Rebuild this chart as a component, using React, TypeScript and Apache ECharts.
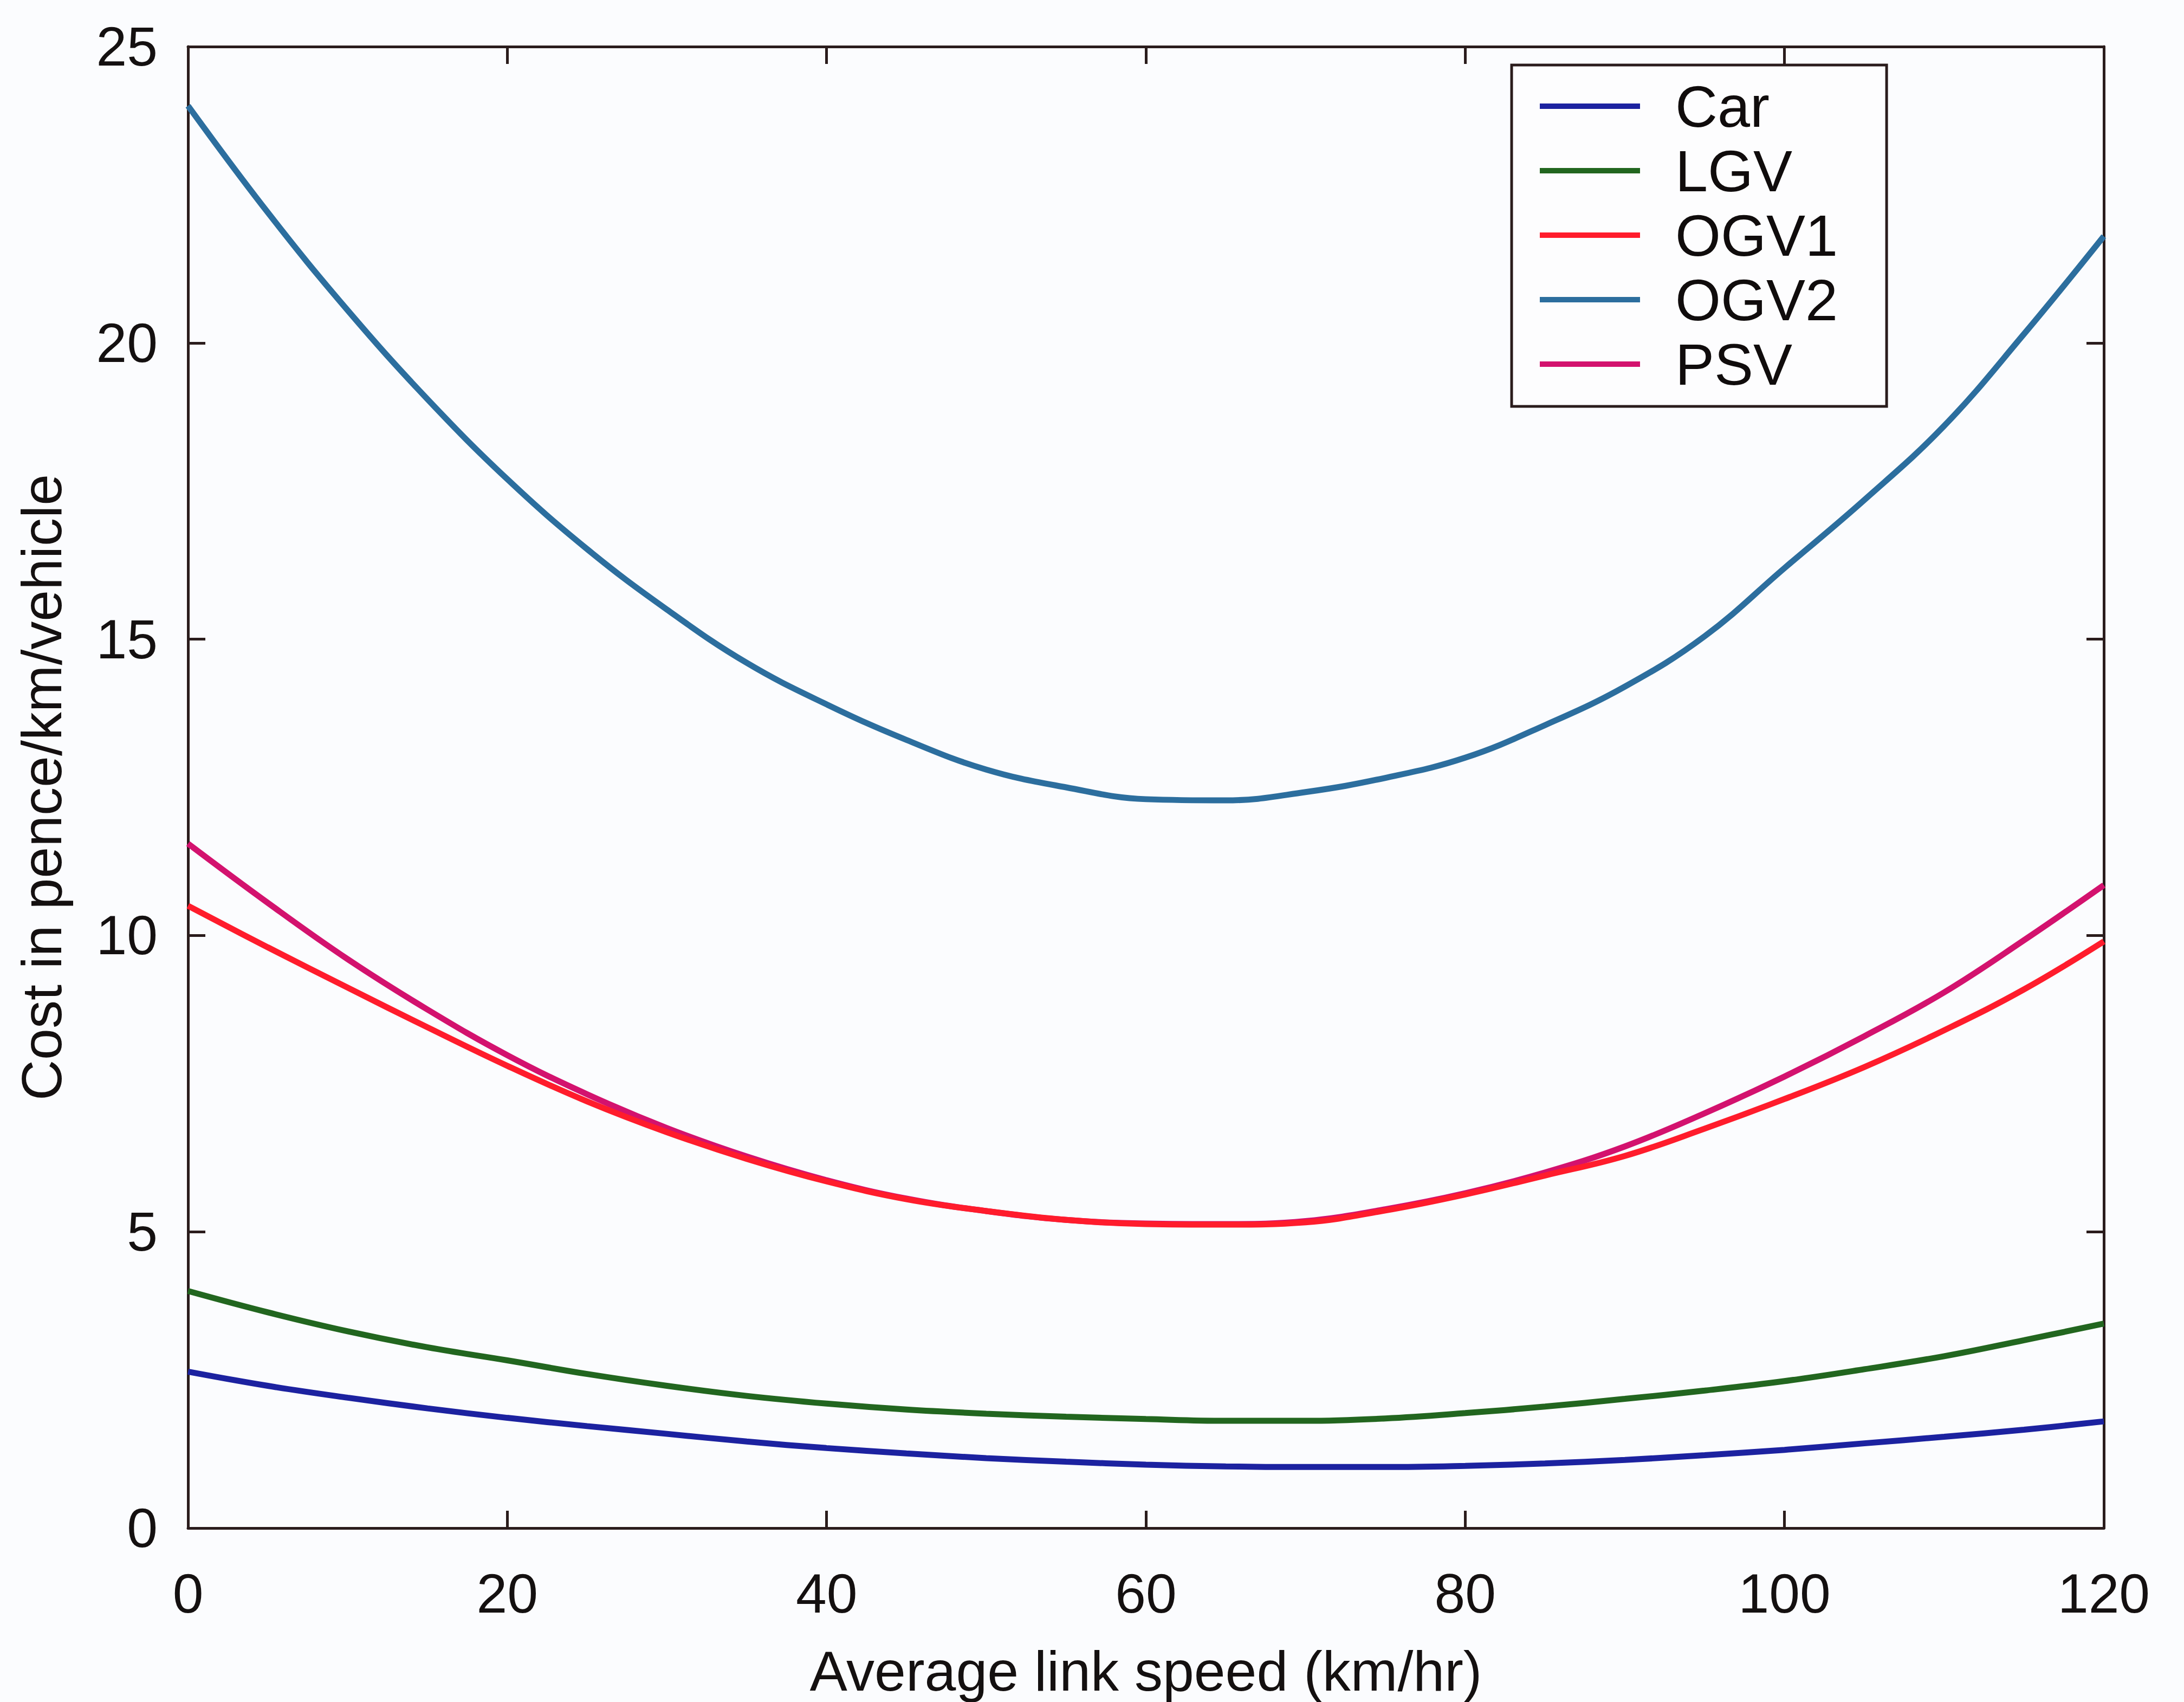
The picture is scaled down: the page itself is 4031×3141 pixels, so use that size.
import React, { useEffect, useRef } from "react";
import * as echarts from "echarts";

const speeds = [0, 5, 10, 15, 20, 25, 30, 35, 40, 45, 50, 55, 60, 65, 70, 75, 80, 85, 90, 95, 100, 105, 110, 115, 120];
const car = [2.64, 2.4, 2.2, 2.02, 1.86, 1.72, 1.59, 1.46, 1.35, 1.26, 1.18, 1.12, 1.07, 1.04, 1.03, 1.03, 1.05, 1.09, 1.15, 1.23, 1.32, 1.43, 1.54, 1.66, 1.8];
const lgv = [4.0, 3.64, 3.32, 3.05, 2.83, 2.6, 2.4, 2.23, 2.1, 2.0, 1.93, 1.88, 1.84, 1.81, 1.81, 1.85, 1.94, 2.05, 2.18, 2.32, 2.48, 2.68, 2.9, 3.17, 3.45];
const ogv1 = [10.5, 9.8, 9.12, 8.45, 7.8, 7.2, 6.68, 6.23, 5.85, 5.55, 5.35, 5.2, 5.13, 5.12, 5.16, 5.36, 5.63, 5.95, 6.28, 6.74, 7.24, 7.78, 8.4, 9.09, 9.9];
const ogv2 = [24.0, 22.2, 20.55, 19.05, 17.7, 16.52, 15.5, 14.6, 13.9, 13.3, 12.8, 12.5, 12.3, 12.28, 12.42, 12.66, 13.0, 13.55, 14.2, 15.05, 16.2, 17.35, 18.6, 20.15, 21.8];
const psv = [11.55, 10.55, 9.6, 8.75, 7.98, 7.32, 6.75, 6.27, 5.87, 5.56, 5.35, 5.2, 5.14, 5.13, 5.18, 5.38, 5.65, 6.0, 6.44, 7.0, 7.62, 8.3, 9.04, 9.92, 10.85];

const seriesNames = ["Car", "LGV", "OGV1", "OGV2", "PSV"];
const seriesValues = [car, lgv, ogv1, ogv2, psv];
const seriesColors = ["#1c22a0", "#22661f", "#ff1c2c", "#2c6e9e", "#d3126e"];

const xTicks = [0, 20, 40, 60, 80, 100, 120];
const yTicks = [0, 5, 10, 15, 20, 25];

const FONT = "Liberation Sans, Arial, Helvetica, sans-serif";
const AXIS_COLOR = "#2a1c1c";

export default function App() {
  const ref = useRef<HTMLDivElement>(null);
  useEffect(() => {
    if (!ref.current) return;
    const chart = echarts.init(ref.current, undefined, { renderer: "svg" });
    const axisCommon = {
      type: "value" as const,
      axisLine: { show: true, onZero: false, lineStyle: { color: AXIS_COLOR, width: 5 } },
      axisTick: { show: true, inside: true, length: 32, lineStyle: { color: AXIS_COLOR, width: 5 } },
      splitLine: { show: false },
    };
    chart.setOption({
      animation: false,
      backgroundColor: "#fbfcfe",
      textStyle: { fontFamily: FONT },
      grid: { left: 347, right: 148, top: 86, bottom: 293, containLabel: false },
      xAxis: [
        {
          ...axisCommon,
          min: xTicks[0],
          max: xTicks[xTicks.length - 1],
          interval: 20,
          position: "bottom",
          axisLabel: { fontSize: 102, color: "#141010", margin: 70, fontFamily: FONT },
          name: "Average link speed (km/hr)",
          nameLocation: "middle",
          nameGap: 212,
          nameTextStyle: { fontSize: 104, color: "#141010", fontFamily: FONT },
        },
        {
          ...axisCommon,
          min: xTicks[0],
          max: xTicks[xTicks.length - 1],
          interval: 20,
          position: "top",
          axisLabel: { show: false },
        },
      ],
      yAxis: [
        {
          ...axisCommon,
          min: yTicks[0],
          max: yTicks[yTicks.length - 1],
          interval: 5,
          position: "left",
          axisLabel: { fontSize: 102, color: "#141010", margin: 56, fontFamily: FONT },
          name: "Cost in pence/km/vehicle",
          nameLocation: "middle",
          nameGap: 218,
          nameRotate: 90,
          nameTextStyle: { fontSize: 104, color: "#141010", fontFamily: FONT },
        },
        {
          ...axisCommon,
          min: yTicks[0],
          max: yTicks[yTicks.length - 1],
          interval: 5,
          position: "right",
          axisLabel: { show: false },
        },
      ],
      legend: {
        show: true,
        orient: "vertical",
        left: 2790,
        top: 120,
        padding: [22, 90, 24, 52],
        itemGap: 11,
        itemWidth: 185,
        itemHeight: 10,
        icon: "rect",
        backgroundColor: "#fdfdfe",
        borderColor: AXIS_COLOR,
        borderWidth: 5,
        textStyle: { fontSize: 108, lineHeight: 100, color: "#100c0c", fontFamily: FONT, padding: [0, 0, 0, 60] },
        data: seriesNames,
      },
      series: seriesNames.map((name, k) => ({
        name,
        type: "line",
        xAxisIndex: 0,
        yAxisIndex: 0,
        smooth: 0.4,
        symbol: "none",
        showSymbol: false,
        color: seriesColors[k],
        lineStyle: { color: seriesColors[k], width: 11 },
        data: speeds.map((s, i) => [s, seriesValues[k][i]]),
        z: k === 2 ? 4 : 3,
      })),
    });
    return () => chart.dispose();
  }, []);
  return (
    <div
      ref={ref}
      style={{ position: "absolute", left: 0, top: 0, width: 4031, height: 3141 }}
    />
  );
}
